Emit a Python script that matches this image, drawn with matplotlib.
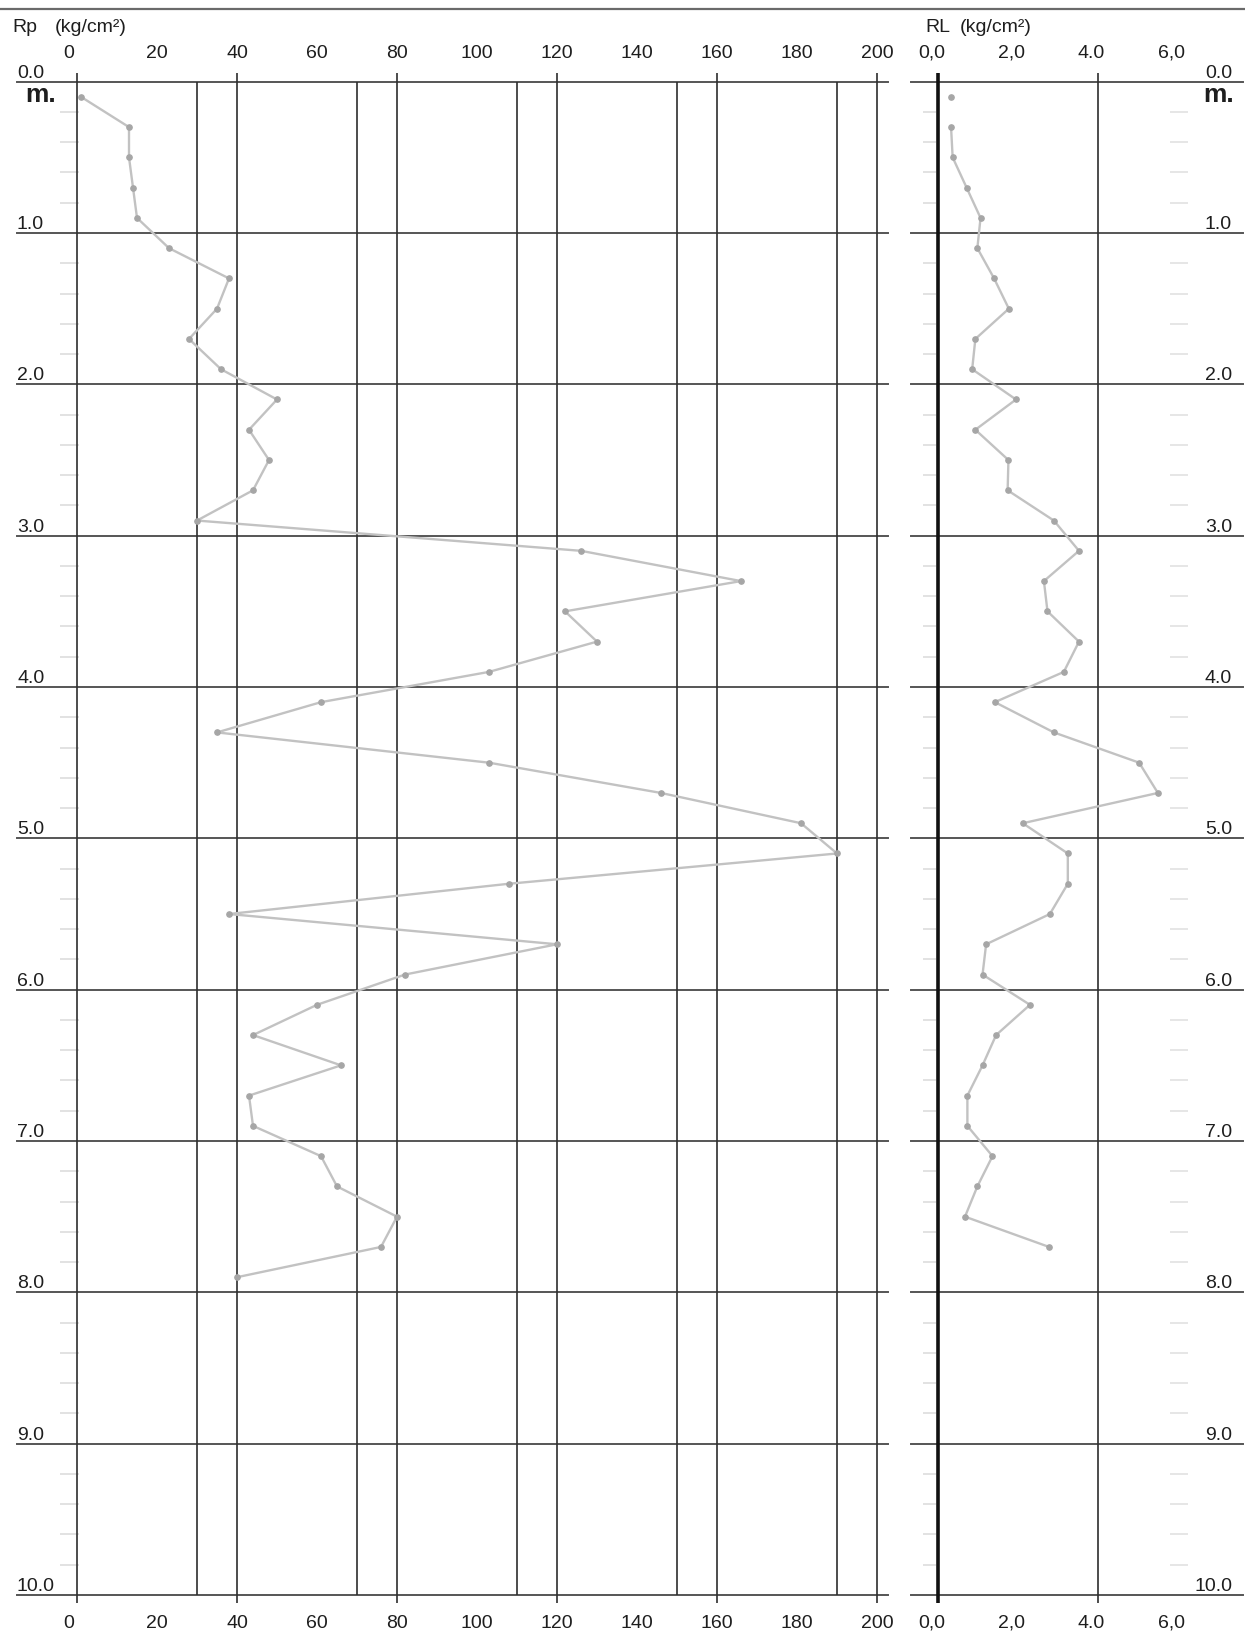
import matplotlib
matplotlib.use("Agg")
import matplotlib.pyplot as plt
from matplotlib.lines import Line2D
from matplotlib.transforms import blended_transform_factory as blend

plt.rcParams['font.family'] = ['Liberation Sans', 'DejaVu Sans']

# ---- penetration test readings -------------------------------------------
rp_depth = [0.1, 0.3, 0.5, 0.7, 0.9, 1.1, 1.3, 1.5, 1.7, 1.9,
            2.1, 2.3, 2.5, 2.7, 2.9, 3.1, 3.3, 3.5, 3.7, 3.9,
            4.1, 4.3, 4.5, 4.7, 4.9, 5.1, 5.3, 5.5, 5.7, 5.9,
            6.1, 6.3, 6.5, 6.7, 6.9, 7.1, 7.3, 7.5, 7.7, 7.9]
rp_value = [1, 13, 13, 14, 15, 23, 38, 35, 28, 36,
            50, 43, 48, 44, 30, 126, 166, 122, 130, 103,
            61, 35, 103, 146, 181, 190, 108, 38, 120, 82,
            60, 44, 66, 43, 44, 61, 65, 80, 76, 40]

rl_depth = [0.1, 0.3, 0.5, 0.7, 0.9, 1.1, 1.3, 1.5, 1.7, 1.9,
            2.1, 2.3, 2.5, 2.7, 2.9, 3.1, 3.3, 3.5, 3.7, 3.9,
            4.1, 4.3, 4.5, 4.7, 4.9, 5.1, 5.3, 5.5, 5.7, 5.9,
            6.1, 6.3, 6.5, 6.7, 6.9, 7.1, 7.3, 7.5, 7.7]
rl_value = [0.32, 0.32, 0.36, 0.71, 1.06, 0.98, 1.40, 1.77, 0.93, 0.85,
            1.95, 0.93, 1.76, 1.74, 2.90, 3.53, 2.65, 2.74, 3.53, 3.15,
            1.42, 2.90, 5.04, 5.51, 2.12, 3.25, 3.25, 2.80, 1.20, 1.11,
            2.30, 1.45, 1.11, 0.73, 0.73, 1.36, 0.98, 0.67, 2.78]

rp_ticks = [0, 20, 40, 60, 80, 100, 120, 140, 160, 180, 200]
rl_ticks = [0, 2, 4, 6]
rl_tick_labels = ['0,0', '2,0', '4.0', '6,0']
depth_ticks = [0, 1, 2, 3, 4, 5, 6, 7, 8, 9, 10]
depth_labels = ['0.0', '1.0', '2.0', '3.0', '4.0', '5.0', '6.0', '7.0',
                '8.0', '9.0', '10.0']
rp_grid_long = [0, 40, 80, 120, 160, 200]
rp_grid_short = [30, 70, 110, 150, 190]
rl_grid = [4]

# ---- figure ---------------------------------------------------------------
W, H, DPI = 1245, 1632, 100
fig = plt.figure(figsize=(W / DPI, H / DPI), dpi=DPI)
fig.patch.set_facecolor('white')


def px_box(x0, x1, y0, y1):
    return [x0 / W, 1 - y1 / H, (x1 - x0) / W, (y1 - y0) / H]


TOP, BOT = 81.7, 1595.0
ax1 = fig.add_axes(px_box(17, 888, TOP, BOT))
ax1.set_xlim(-15, 202.75)
ax1.set_ylim(10, 0)
ax2 = fig.add_axes(px_box(911, 1243, TOP, BOT))
ax2.set_xlim(-0.685, 7.646)
ax2.set_ylim(10, 0)
for ax in (ax1, ax2):
    ax.axis('off')

grid_col = '#2e2e2e'
hline_col = '#555555'
txt_col = '#1e1e1e'

# depth lines
for ax in (ax1, ax2):
    for d in depth_ticks:
        ax.axhline(d, color=hline_col, lw=1.4, clip_on=False, zorder=2)

# Rp verticals
ax1.vlines(rp_grid_long, -0.055, 10.05, color=grid_col, lw=1.2,
           clip_on=False, zorder=2)
ax1.vlines(rp_grid_short, 0, 10, color=grid_col, lw=1.2, zorder=2)
# RL verticals
ax2.vlines([0], -0.055, 10.05, color='#111111', lw=2.6, clip_on=False,
           zorder=3)
ax2.vlines(rl_grid, -0.055, 10.05, color=grid_col, lw=1.2, clip_on=False,
           zorder=2)

# faint minor depth marks every 0.2 m
minor = [i / 5 for i in range(1, 50) if i % 5]
ax1.hlines(minor, -4.3, 0.6, color='#e2e2e2', lw=1.4, zorder=1)
ax2.hlines(minor, -0.38, -0.05, color='#e2e2e2', lw=1.4, zorder=1)
ax2.hlines(minor, 5.82, 6.27, color='#e6e6e6', lw=1.4, zorder=1)

# data curves
line_kw = dict(color='#c2c2c2', lw=1.7, zorder=4)
mark_kw = dict(marker='o', ms=3.8, mfc='#a6a6a6', mec='#a6a6a6', lw=0,
               zorder=5)
ax1.plot(rp_value, rp_depth, **line_kw)
ax1.plot(rp_value, rp_depth, **mark_kw)
ax2.plot(rl_value[1:], rl_depth[1:], **line_kw)
ax2.plot(rl_value, rl_depth, **mark_kw)

# ---- text -----------------------------------------------------------------
fs = 14
t_top1 = blend(ax1.transData, fig.transFigure)
t_top2 = blend(ax2.transData, fig.transFigure)
y_top = 1 - 53.5 / H
y_bot = 1 - 1623.5 / H
for v in rp_ticks:
    xv = v - 2 if v == 0 else v
    for yy in (y_top, y_bot):
        ax1.text(xv, yy, str(v), transform=t_top1, ha='center',
                 va='center', fontsize=fs, color=txt_col)
for v, lab in zip(rl_ticks, rl_tick_labels):
    for yy in (y_top, y_bot):
        ax2.text(v - 0.16, yy, lab, transform=t_top2, ha='center',
                 va='center', fontsize=fs, color=txt_col)

t_l = blend(fig.transFigure, ax1.transData)
for d, lab in zip(depth_ticks, depth_labels):
    ax1.text(17 / W, d, lab, transform=t_l, ha='left', va='bottom',
             fontsize=fs, color=txt_col)
    ax1.text(1232 / W, d, lab, transform=t_l, ha='right', va='bottom',
             fontsize=fs, color=txt_col)

fig.text(25 / W, 1 - 102 / H, 'm.', fontsize=19, fontweight='bold',
         va='baseline', ha='left', color=txt_col)
fig.text(1234 / W, 1 - 102 / H, 'm.', fontsize=19, fontweight='bold',
         va='baseline', ha='right', color=txt_col)

fig.text(12 / W, 1 - 28 / H, 'Rp', fontsize=fs, va='center', ha='left',
         color=txt_col)
fig.text(55 / W, 1 - 28 / H, '(kg/cm²)', fontsize=fs, va='center',
         ha='left', color=txt_col)
fig.text(925 / W, 1 - 28 / H, 'RL', fontsize=fs, va='center', ha='left',
         color=txt_col)
fig.text(960 / W, 1 - 28 / H, '(kg/cm²)', fontsize=fs, va='center',
         ha='left', color=txt_col)

# top rule
fig.add_artist(Line2D([0, 1], [1 - 9 / H, 1 - 9 / H],
                      transform=fig.transFigure, color='#6a6a6a', lw=1.6))

fig.savefig('out.png', dpi=DPI, facecolor='white')
